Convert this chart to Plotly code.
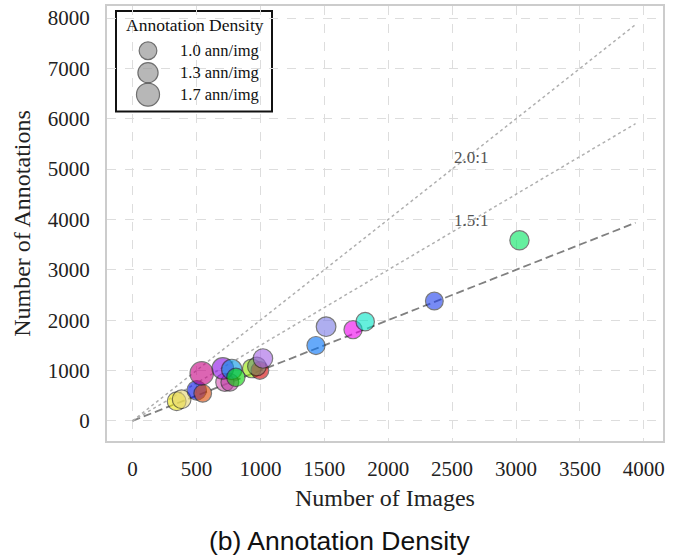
import numpy as np
import plotly.graph_objects as go

# ---- data ----
images = [345, 384, 502, 549, 541, 722, 761, 706, 776, 808, 933, 996, 973, 1020,
          1435, 1514, 1725, 1820, 2361, 3027]
annotations = [389, 429, 607, 547, 943, 765, 765, 1042, 1022, 864, 1042, 1002, 1081, 1239,
               1496, 1871, 1811, 1970, 2380, 3587]
point_colors = ["#eee60d", "#e6d571", "#000de6", "#de4800", "#c50082", "#d550b4",
                "#bc3fa3", "#8a0de6", "#0093e6", "#00d500", "#93e600", "#d50000",
                "#719371", "#a361e6", "#0071f7", "#7a7ae6", "#ee00ee", "#00e6c5",
                "#1e3fee", "#00e661"]
ratios = [1.0, 1.5, 2.0]
ratio_labels = ["", "1.5:1", "2.0:1"]
legend_density = [1.0, 1.3, 1.7]
legend_labels = ["1.0 ann/img", "1.3 ann/img", "1.7 ann/img"]
x_ticks = [0, 500, 1000, 1500, 2000, 2500, 3000, 3500, 4000]
y_ticks = [0, 1000, 2000, 3000, 4000, 5000, 6000, 7000, 8000]

SERIF = "Liberation Serif"
BASE_D = 17.7

def size_of(d):
    return BASE_D * np.sqrt(np.asarray(d, dtype=float))

img = np.array(images, dtype=float)
ann = np.array(annotations, dtype=float)
dens = ann / img

fig = go.Figure()

# reference lines
xmax = img.max() * 1.3
xl = np.array([0, xmax])
styles = {1.0: dict(color="#808080", width=1.8, dash="8px,4px"),
          1.5: dict(color="#b0b0b0", width=1.5, dash="dot"),
          2.0: dict(color="#b0b0b0", width=1.5, dash="dot")}
for r in ratios:
    fig.add_trace(go.Scatter(x=xl, y=r * xl, mode="lines", line=styles[r],
                             showlegend=False, hoverinfo="skip"))

# data points
fig.add_trace(go.Scatter(
    x=img, y=ann, mode="markers", showlegend=False,
    marker=dict(size=size_of(dens), color=point_colors, opacity=0.6,
                line=dict(color="#222222", width=1.2))))

# ratio labels
for r, lab in zip(ratios, ratio_labels):
    if lab:
        fig.add_annotation(x=2500, y=r * 2500, text=lab, showarrow=False,
                           xanchor="left", yanchor="bottom",
                           font=dict(family=SERIF, size=17, color="#555555"))

# custom legend (on overlay axes in pixel-like units)
L, R, T, B = 107, 663, 4, 441
leg_x = [148] * len(legend_density)
leg_y = [49, 71, 93]
fig.add_trace(go.Scatter(
    x=leg_x, y=leg_y, mode="markers", xaxis="x2", yaxis="y2", showlegend=False,
    hoverinfo="skip",
    marker=dict(size=size_of(legend_density), color="#999999",
                line=dict(color="#333333", width=1.2))))
for yy, lab in zip(leg_y, legend_labels):
    fig.add_annotation(x=178, y=yy, xref="x2", yref="y2", text=lab, showarrow=False,
                       xanchor="left", yanchor="middle",
                       font=dict(family=SERIF, size=16.5, color="#111111"))
fig.add_annotation(x=195, y=23, xref="x2", yref="y2", text="Annotation Density",
                   showarrow=False, xanchor="center", yanchor="middle",
                   font=dict(family=SERIF, size=17.5, color="#111111"))
fig.add_shape(type="rect", xref="x2", yref="y2", x0=116, x1=272, y0=9, y1=110,
              line=dict(color="#111111", width=2), fillcolor="rgba(255,255,255,0.9)",
              layer="below")

# subtitle
fig.add_annotation(x=(339 - L) / (R - L), y=(B - 541) / (B - T), xref="paper", yref="paper",
                   text="(b) Annotation Density", showarrow=False,
                   xanchor="center", yanchor="middle",
                   font=dict(family="Liberation Sans", size=26.5, color="#111111"))

axis_common = dict(showgrid=True, gridcolor="#dddddd", griddash="dash", gridwidth=1,
                   zeroline=False, showline=True, linecolor="#cccccc", linewidth=2,
                   mirror=True, ticks="", tickfont=dict(family=SERIF, size=21, color="#222222"))

fig.update_layout(
    width=688, height=556,
    margin=dict(l=L, r=688 - R, t=T, b=556 - B),
    plot_bgcolor="white", paper_bgcolor="white",
    xaxis=dict(range=[-200, 4150], tickvals=x_ticks, ticklabelstandoff=8,
               title=dict(text="Number of Images", font=dict(family=SERIF, size=24, color="#222222"),
                          standoff=9),
               **axis_common),
    yaxis=dict(range=[-400, 8240], tickvals=y_ticks, ticklabelstandoff=11,
               title=dict(text="Number of Annotations", font=dict(family=SERIF, size=24, color="#222222"),
                          standoff=10),
               **axis_common),
    xaxis2=dict(overlaying="x", range=[L, R], visible=False, fixedrange=True),
    yaxis2=dict(overlaying="y", range=[B, T], visible=False, fixedrange=True),
    showlegend=False,
)

fig.write_html("out.html")
